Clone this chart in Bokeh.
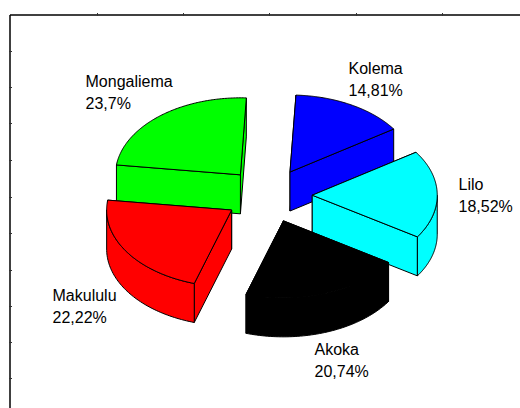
import numpy as np
from bokeh.plotting import figure
from bokeh.models import Range1d
from bokeh.core.properties import value
from bokeh.embed import file_html
from bokeh.resources import INLINE

# data (clockwise from the top, as in the chart)
names = ["Kolema", "Lilo", "Akoka", "Makululu", "Mongaliema"]
shares = [14.81, 18.52, 20.74, 22.22, 23.70]
share_labels = ["14,81%", "18,52%", "20,74%", "22,22%", "23,7%"]
colors = ["#0000ff", "#00ffff", "#000000", "#ff0000", "#00ff00"]
x_ticks = [97, 183, 269, 356, 442]
y_ticks = [51, 87, 123, 160, 197, 233, 270, 306, 342, 378]

# layout
W, H = 520, 408
FRAME_X, FRAME_Y = 9.5, 14.5
CX, CY, RX, RY, DEPTH, EXPLODE, START = 268.0, 195.0, 125.0, 77.0, 39.0, 0.35, 2.75
label_pos = [(348, 68), (458, 184), (314, 349), (52, 295), (85, 81)]
LINE_GAP = 22
draw_order = [0, 4, 1, 3, 2]

p = figure(width=W, height=H, output_backend="svg", toolbar_location=None,
           x_range=Range1d(0, W), y_range=Range1d(H, 0),
           x_axis_location=None, y_axis_location=None,
           min_border=0, outline_line_color=None,
           background_fill_color="white", border_fill_color="white")
p.grid.visible = False

# frame and its ticks
p.segment([FRAME_X, FRAME_X], [FRAME_Y, FRAME_Y], [FRAME_X, W], [H, FRAME_Y],
          line_color="#000000", line_width=1.5)
p.segment(x_ticks, [FRAME_Y - 2] * len(x_ticks), x_ticks, [FRAME_Y + 1] * len(x_ticks),
          line_color="#333333", line_width=1)
p.segment([FRAME_X - 1] * len(y_ticks), y_ticks, [FRAME_X + 2] * len(y_ticks), y_ticks,
          line_color="#333333", line_width=1)

angles = START + np.concatenate([[0], np.cumsum(shares)]) * 3.6


def ell(cx, cy, t):
    r = np.radians(t)
    return cx + RX * np.sin(r), cy - RY * np.cos(r)


for i in draw_order:
    t0, t1 = angles[i], angles[i + 1]
    mid = (t0 + t1) / 2
    cx, cy = ell(CX, CY, mid)
    cx, cy = CX + (cx - CX) * EXPLODE, CY + (cy - CY) * EXPLODE
    col = colors[i]
    # the two cut faces, the farther one first
    ends = sorted((ell(cx, cy, t0), ell(cx, cy, t1)), key=lambda e: e[1])
    faces_x = [[cx, xe, xe, cx] for xe, ye in ends]
    faces_y = [[cy, ye, ye + DEPTH, cy + DEPTH] for xe, ye in ends]
    # the visible part of the outer wall
    lo, hi = max(t0, 90), min(t1, 270)
    if hi > lo:
        ts = np.linspace(lo, hi, 60)
        wx, wy = ell(cx, cy, ts)
        faces_x.append(list(wx) + list(wx[::-1]))
        faces_y.append(list(wy) + list((wy + DEPTH)[::-1]))
    p.patches(faces_x, faces_y, fill_color=col, line_color="#000000", line_width=1)
    # the top
    ts = np.linspace(t0, t1, 120)
    tx, ty = ell(cx, cy, ts)
    p.patch([cx] + list(tx), [cy] + list(ty), fill_color=col, line_color="#000000", line_width=1)

for name, lab, (lx, ly) in zip(names, share_labels, label_pos):
    p.text([lx, lx], [ly, ly + LINE_GAP], text=[name, lab], text_font=value("Liberation Sans"),
           text_font_size="16px", text_color="#000000", text_align="left", text_baseline="middle")

open("out.html", "w").write(file_html(p, INLINE))
